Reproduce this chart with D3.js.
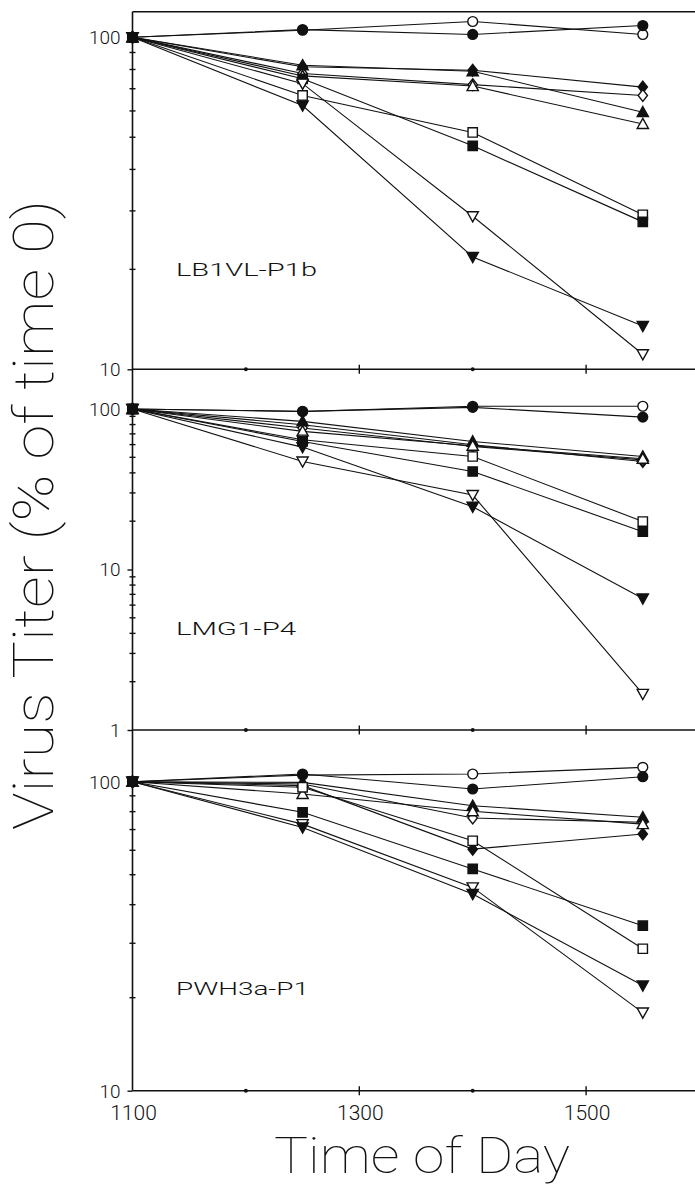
<!DOCTYPE html>
<html><head><meta charset="utf-8">
<script src="https://cdn.jsdelivr.net/npm/d3@7/dist/d3.min.js"></script>
<style>body{margin:0;background:#fff}svg{display:block}</style>
</head><body><svg id="c" width="695" height="1191"></svg>
<script>
// ---------------- data ----------------
const times = [1100, 1250, 1400, 1550];
const seriesKeys = ["openCircle","filledCircle","filledDiamond","openDiamond","filledUp","openUp","openSquare","filledSquare","openDown","filledDown"];
const panelNames = ["LB1VL-P1b", "LMG1-P4", "PWH3a-P1"];
const xTickLabels = [1100, 1300, 1500];
const xTicksMajor = [1300, 1500];
const xTicksMinor = [1200, 1400];
const yLabelTicks = [[100, 10], [100, 10, 1], [100, 10]];

// values (% of time 0), one array per series, order = seriesKeys
const lb1vlValues = [
  [100, 105.0, 111.6, 102.0],
  [100, 105.5, 102.0, 108.5],
  [100, 81.5, 79.6, 70.8],
  [100, 77.8, 72.0, 66.8],
  [100, 82.4, 79.0, 59.5],
  [100, 76.5, 71.3, 54.8],
  [100, 66.8, 51.7, 29.2],
  [100, 75.0, 47.1, 27.8],
  [100, 72.5, 28.9, 11.1],
  [100, 62.3, 21.8, 13.5]
];
const lmg1Values = [
  [100, 96.5, 104.0, 104.0],
  [100, 96.7, 102.4, 89.0],
  [100, 79.8, 59.9, 47.1],
  [100, 76.1, 58.4, 48.2],
  [100, 83.7, 62.8, 50.6],
  [100, 72.5, 59.0, 49.0],
  [100, 64.3, 50.6, 19.9],
  [100, 62.8, 40.8, 17.2],
  [100, 47.1, 29.1, 1.68],
  [100, 57.9, 24.6, 6.6]
];
const pwh3aValues = [
  [100, 105.0, 105.9, 111.3],
  [100, 105.9, 94.7, 103.8],
  [100, 97.1, 60.5, 67.7],
  [100, 98.3, 76.3, 73.9],
  [100, 99.5, 83.6, 76.7],
  [100, 91.2, 80.2, 72.9],
  [100, 95.9, 64.4, 28.8],
  [100, 79.6, 52.2, 34.2],
  [100, 72.9, 45.5, 17.9],
  [100, 71.1, 43.3, 21.9]
];
const panelValues = [lb1vlValues, lmg1Values, pwh3aValues];

// ---------------- layout ----------------
const svg = d3.select("#c");
const xLeft = 132.5, xRight = 699.5, clipRight = 695;
const x = d3.scaleLinear().domain([1100, 1600]).range([xLeft, xRight]);
const frameTop = 11.7;
const panelBottoms = [369.3, 730, 1090.7];
const panel100 = [37.3, 409, 781.7];
const panelMin = [10, 1, 10];

const ink = "#111";

// symbol shapes
const shape = {
  circle: {draw(c, s){ const r = s; c.moveTo(r,0); c.arc(0,0,r,0,2*Math.PI); }},
  square: {draw(c, s){ const h = s*0.95; c.rect(-h,-h,2*h,2*h); }},
  diamond:{draw(c, s){ const h = s*1.2, w = s*0.95; c.moveTo(0,-h); c.lineTo(w,0); c.lineTo(0,h); c.lineTo(-w,0); c.closePath(); }},
  up:     {draw(c, s){ const h = s*1.15; c.moveTo(0,-h); c.lineTo(h*1.0,h*0.8); c.lineTo(-h*1.0,h*0.8); c.closePath(); }},
  down:   {draw(c, s){ const h = s*1.15; c.moveTo(0,h); c.lineTo(h*1.0,-h*0.8); c.lineTo(-h*1.0,-h*0.8); c.closePath(); }}
};
const seriesShape = {openCircle:"circle",filledCircle:"circle",filledDiamond:"diamond",openDiamond:"diamond",
  filledUp:"up",openUp:"up",openSquare:"square",filledSquare:"square",openDown:"down",filledDown:"down"};
const seriesFilled = {openCircle:false,filledCircle:true,filledDiamond:true,openDiamond:false,
  filledUp:true,openUp:false,openSquare:false,filledSquare:true,openDown:false,filledDown:true};

const fontNum = "Roboto, 'DejaVu Sans', sans-serif";

panelValues.forEach((vals, pi) => {
  const y = d3.scaleLog().domain([panelMin[pi], 100]).range([panelBottoms[pi], panel100[pi]]);
  const g = svg.append("g");

  // bottom line of the panel (axis at yMin) with crossing ticks
  g.append("line").attr("x1", xLeft).attr("x2", clipRight)
    .attr("y1", y(panelMin[pi])).attr("y2", y(panelMin[pi]))
    .attr("stroke", ink).attr("stroke-width", 1.4);
  xTicksMajor.forEach(t => g.append("line").attr("x1", x(t)).attr("x2", x(t))
    .attr("y1", y(panelMin[pi]) - 4.5).attr("y2", y(panelMin[pi]) + 4.5)
    .attr("stroke", ink).attr("stroke-width", 1.4));
  xTicksMinor.forEach(t => g.append("circle").attr("cx", x(t)).attr("cy", y(panelMin[pi]))
    .attr("r", 2).attr("fill", ink));

  // minor y ticks (2..9 of each decade)
  const minor = [];
  for (let dec = panelMin[pi]; dec < 100; dec *= 10) {
    for (let k = 2; k <= 9; k++) minor.push(dec * k);
  }
  g.selectAll(".ym").data(minor).join("line")
    .attr("x1", xLeft - 3).attr("x2", xLeft + 3)
    .attr("y1", d => y(d)).attr("y2", d => y(d))
    .attr("stroke", ink).attr("stroke-width", 1.4);

  // major y ticks and labels
  const yAxis = d3.axisLeft(y).tickValues(yLabelTicks[pi]).tickFormat(d3.format("d"))
    .tickSizeInner(5).tickSizeOuter(0).tickPadding(7);
  const ga = g.append("g").attr("transform", `translate(${xLeft},0)`).call(yAxis);
  ga.select(".domain").remove();
  ga.selectAll(".tick line").attr("stroke", ink).attr("stroke-width", 1.4);
  ga.selectAll(".tick text").attr("font-family", fontNum).attr("font-weight", 300)
    .attr("font-size", 19).attr("fill", ink).attr("dy", "0.34em");

  // series lines
  const line = d3.line().x((d, i) => x(times[i])).y(d => y(d));
  g.selectAll(".s").data(vals).join("path")
    .attr("d", line).attr("fill", "none").attr("stroke", ink).attr("stroke-width", 1.1);

  // markers
  vals.forEach((sv, si) => {
    const key = seriesKeys[si];
    const sym = d3.symbol().type(shape[seriesShape[key]]).size(4.9);
    g.selectAll(null).data(sv).join("path")
      .attr("transform", (d, i) => `translate(${x(times[i])},${y(d)})`)
      .attr("d", sym)
      .attr("fill", seriesFilled[key] ? ink : "#fff")
      .attr("stroke", ink).attr("stroke-width", 1.4);
  });

  // panel label
  const labelY = [276, 635, 995][pi];
  const labelW = [141, 120, 133][pi];
  g.append("text").attr("x", 176).attr("y", labelY)
    .attr("font-family", fontNum).attr("font-weight", 300).attr("font-size", 18)
    .attr("textLength", labelW).attr("lengthAdjust", "spacingAndGlyphs")
    .attr("fill", ink).text(panelNames[pi]);
});

// frame: top line and left axis
svg.append("line").attr("x1", xLeft).attr("x2", clipRight).attr("y1", frameTop).attr("y2", frameTop)
  .attr("stroke", ink).attr("stroke-width", 1.4);
svg.append("line").attr("x1", xLeft).attr("x2", xLeft).attr("y1", frameTop).attr("y2", panelBottoms[2])
  .attr("stroke", ink).attr("stroke-width", 1.6);

// x tick labels
svg.selectAll(".xl").data(xTickLabels).join("text")
  .attr("x", d => x(d) + 1).attr("y", 1120).attr("text-anchor", "middle")
  .attr("font-family", fontNum).attr("font-weight", 300).attr("font-size", 21)
  .attr("fill", ink).text(d => d);

// axis titles
svg.append("text").attr("x", 422).attr("y", 1173).attr("text-anchor", "middle")
  .attr("font-family", fontNum).attr("font-weight", 100).attr("font-size", 50)
  .attr("textLength", 296).attr("lengthAdjust", "spacingAndGlyphs")
  .attr("fill", ink).text("Time of Day");
svg.append("text").attr("transform", "translate(53,515) rotate(-90)").attr("text-anchor", "middle")
  .attr("font-family", fontNum).attr("font-weight", 100).attr("font-size", 55)
  .attr("textLength", 630).attr("lengthAdjust", "spacingAndGlyphs")
  .attr("fill", ink).text("Virus Titer (% of time 0)");
</script>
</body></html>
